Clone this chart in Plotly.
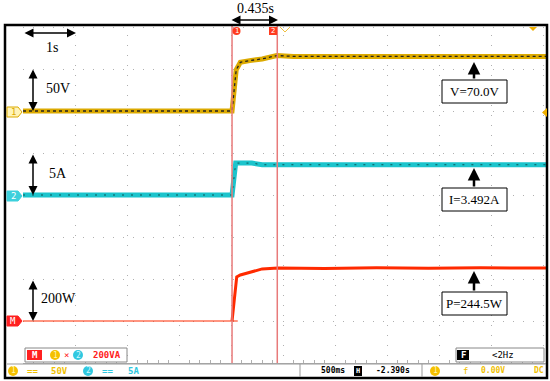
import plotly.graph_objects as go

# time in seconds from the left edge of the screen (500 ms/div)
t_v = [0.0, 2.01, 2.05, 2.09, 2.18, 2.30, 2.44, 2.60, 5.04]
volts = [0, 0, 49, 58, 60, 62, 66, 65, 65]

t_i = [0.0, 2.01, 2.045, 2.20, 2.30, 5.04]
amps = [0, 0, 3.8, 3.8, 3.6, 3.6]

t_p = [0.0, 2.01, 2.055, 2.09, 2.18, 2.30, 2.45, 2.9, 3.4, 3.9, 4.4, 5.04]
watts = [0, 0, 210, 219, 233, 248, 252, 250, 253, 251, 253, 252]

cursor_t = [2.01, 2.445]
readouts = ['V=70.0V', 'I=3.492A', 'P=244.5W']
scale_labels = ['50V', '5A', '200W']

# channel ground level (divisions) and units/div
V_OFF, V_DIV = 6, 50
I_OFF, I_DIV = 4, 5
P_OFF, P_DIV = 1, 200

YELLOW = '#dcaa00'
CYAN = '#1cc4cc'
RED = '#ff2a00'
CURSOR = '#e87a7a'

# pixel -> paper helpers (plot area is x 23..547, y 25..363)
def px(x):
    return (x - 23) / 524

def py(y):
    return (363 - y) / 338

yv = [V_OFF + v / V_DIV for v in volts]
yi = [I_OFF + a / I_DIV for a in amps]
yp = [P_OFF + w / P_DIV for w in watts]

fig = go.Figure()
fig.add_trace(go.Scatter(x=t_v, y=yv, mode='lines', line=dict(color=YELLOW, width=5)))
fig.add_trace(go.Scatter(x=t_v, y=yv, mode='lines', line=dict(color='#222', width=1.3, dash='3px,3px')))
fig.add_trace(go.Scatter(x=t_i, y=yi, mode='lines', line=dict(color=CYAN, width=5)))
fig.add_trace(go.Scatter(x=t_i, y=yi, mode='lines', line=dict(color='#0b5555', width=1, dash='2px,7px')))
fig.add_trace(go.Scatter(x=[t_p[0], t_p[2] + 0.01], y=[yp[0], yp[0]], mode='lines', line=dict(color=RED, width=1)))
fig.add_trace(go.Scatter(x=t_p[1:], y=yp[1:], mode='lines', line=dict(color=RED, width=3)))

for t in cursor_t:
    fig.add_vline(x=t, line_color=CURSOR, line_width=1.5)

shapes = []
ann = []

# outer frame
shapes.append(dict(type='rect', xref='paper', yref='paper', x0=px(5), x1=px(547), y0=py(378), y1=py(25),
                   line=dict(color='black', width=2.5)))
# status bar top line
shapes.append(dict(type='line', xref='paper', yref='paper', x0=px(7), x1=px(546), y0=py(364), y1=py(364),
                   line=dict(color='#999', width=1)))
for sx in [300, 422]:
    shapes.append(dict(type='line', xref='paper', yref='paper', x0=px(sx), x1=px(sx), y0=py(364), y1=py(377),
                       line=dict(color='#999', width=1)))

def text(x, y, txt, color='black', size=14, family='Liberation Serif'):
    ann.append(dict(xref='paper', yref='paper', x=px(x), y=py(y), text=txt, showarrow=False,
                    xanchor='center', yanchor='middle',
                    font=dict(family=family, size=size, color=color)))

def mono(x, y, txt, color, size=9):
    text(x, y, txt, color, size, 'DejaVu Sans Mono')

def darrow(x0, y0, x1, y1, color='black'):
    ann.append(dict(xref='paper', yref='paper', x=px(x1), y=py(y1), ax=x0 - x1, ay=y0 - y1, text='',
                    showarrow=True, arrowhead=2, arrowside='end+start', arrowsize=1.2, arrowwidth=1.5,
                    arrowcolor=color))

# cursor delta
darrow(230, 20, 278, 20)
text(255, 9, '0.435s')
# scale markers
darrow(23, 33, 76, 33)
text(52, 47, '1s')
for (y0, y1, lab, ly) in [(68, 111, scale_labels[0], 89), (153, 195, scale_labels[1], 173), (279, 321, scale_labels[2], 298)]:
    darrow(33, y0, 33, y1)
    text(58, ly, lab)

# readout boxes
for (top, tip, txt) in [(80, 62, readouts[0]), (188, 168, readouts[1]), (292, 271, readouts[2])]:
    shapes.append(dict(type='rect', xref='paper', yref='paper', x0=px(442), x1=px(507), y0=py(top + 23), y1=py(top),
                       line=dict(color='black', width=1), fillcolor='white'))
    text(474.5, top + 11.5, txt, size=13)
    ann.append(dict(xref='paper', yref='paper', x=px(474), y=py(tip), ax=0, ay=top - tip, text='',
                    showarrow=True, arrowhead=2, arrowsize=1, arrowwidth=2.5, arrowcolor='black'))

# channel markers at left
def marker(yc, fill, border, txt, tcol):
    shapes.append(dict(type='path', xref='paper', yref='paper',
                       path=f'M {px(7)},{py(yc-5)} L {px(18)},{py(yc-5)} L {px(22)},{py(yc)} L {px(18)},{py(yc+5)} L {px(7)},{py(yc+5)} Z',
                       fillcolor=fill, line=dict(color=border, width=1)))
    mono(13, yc, txt, tcol, 9)

marker(112, '#fff4b8', YELLOW, '1', YELLOW)
marker(196, '#3cd0dc', '#3cd0dc', '2', 'white')
marker(321, '#ff2020', '#ff2020', 'M', 'white')

# cursor tags at top
shapes.append(dict(type='circle', xref='paper', yref='paper', x0=px(232.5), x1=px(240.5), y0=py(35), y1=py(27),
                   fillcolor='#ff3b1f', line=dict(width=0)))
text(236.5, 31, '1', 'white', 7, 'DejaVu Sans')
shapes.append(dict(type='rect', xref='paper', yref='paper', x0=px(269), x1=px(277), y0=py(35), y1=py(27),
                   fillcolor='#ff3b1f', line=dict(width=0)))
text(273, 31, '2', 'white', 7, 'DejaVu Sans')
# trigger marks
shapes.append(dict(type='path', xref='paper', yref='paper',
                   path=f'M {px(280)},{py(27)} L {px(285)},{py(32)} L {px(290)},{py(27)}',
                   line=dict(color='#f0c040', width=1)))
shapes.append(dict(type='path', xref='paper', yref='paper',
                   path=f'M {px(529)},{py(27)} L {px(537)},{py(27)} L {px(533)},{py(31)} Z',
                   fillcolor='#f0b000', line=dict(width=0)))
shapes.append(dict(type='path', xref='paper', yref='paper',
                   path=f'M {px(547)},{py(108)} L {px(547)},{py(117)} L {px(542)},{py(112.5)} Z',
                   fillcolor='#f0b000', line=dict(width=0)))

def dot(xc, yc, color, txt, tcol='white'):
    shapes.append(dict(type='circle', xref='paper', yref='paper', x0=px(xc - 5), x1=px(xc + 5), y0=py(yc + 5), y1=py(yc - 5),
                       fillcolor=color, line=dict(width=0)))
    mono(xc, yc, txt, tcol, 8)

# math channel box
shapes.append(dict(type='rect', xref='paper', yref='paper', x0=px(25), x1=px(127), y0=py(362), y1=py(348),
                   fillcolor='white', line=dict(color='#888', width=1)))
shapes.append(dict(type='rect', xref='paper', yref='paper', x0=px(27), x1=px(42), y0=py(360), y1=py(350),
                   fillcolor='#ff2020', line=dict(width=0)))
mono(34.5, 355, '<b>M</b>', 'white')
dot(55, 355, '#f5c000', '1', '#fff6b0')
mono(66, 355, '×', '#ff2020')
dot(78, 355, '#30c8e0', '2', '#d0f8ff')
mono(107, 355, '<b>200VA</b>', '#ff2020')

# filter box
shapes.append(dict(type='rect', xref='paper', yref='paper', x0=px(456), x1=px(544), y0=py(362), y1=py(348),
                   fillcolor='white', line=dict(color='#888', width=1)))
shapes.append(dict(type='rect', xref='paper', yref='paper', x0=px(457), x1=px(469), y0=py(360), y1=py(350),
                   fillcolor='black', line=dict(width=0)))
mono(463, 355, '<b>F</b>', 'white')
mono(503, 355, '<2Hz', 'black')

# bottom status bar
dot(13, 371, '#f5c000', '1', '#fff6b0')
mono(32, 371, '<b>==</b>', '#f0c000')
mono(59, 371, '<b>50V</b>', '#f0c000')
dot(88, 371, '#30c8e0', '2', '#d0f8ff')
mono(107, 371, '<b>==</b>', '#30c8e0')
mono(133, 371, '<b>5A</b>', '#30c8e0')
mono(333, 371, '<b>500ms</b>', 'black', 8)
shapes.append(dict(type='rect', xref='paper', yref='paper', x0=px(354), x1=px(362), y0=py(376), y1=py(366),
                   fillcolor='black', line=dict(width=0)))
mono(358, 371, '<b>H</b>', 'white', 7)
mono(393, 371, '<b>-2.390s</b>', 'black', 8)
dot(435, 371, '#f5c000', '1', '#fff6b0')
mono(465, 371, 'f', '#f0c000')
mono(493, 371, '<b>0.00V</b>', '#f0c000', 8)
mono(539, 371, '<b>DC</b>', '#f0c000', 8)

fig.update_layout(
    width=550, height=381,
    margin=dict(l=23, r=3, t=25, b=18),
    paper_bgcolor='white', plot_bgcolor='white',
    showlegend=False,
    shapes=list(fig.layout.shapes) + shapes,
    annotations=ann,
)
fig.update_xaxes(range=[0, 524 / 104], dtick=0.5, tick0=0, showgrid=True, gridcolor='#b0b0b0',
                 griddash='1px,9px', zeroline=False, showticklabels=False,
                 showline=True, linecolor='#b0b0b0', ticks='',
                 minor=dict(dtick=0.1, ticks='inside', ticklen=3, tickcolor='#b0b0b0', showgrid=False))
fig.update_yaxes(range=[0, 338 / 42], dtick=1, tick0=0, showgrid=True, gridcolor='#b0b0b0',
                 griddash='1px,9px', zeroline=False, showticklabels=False)

fig.write_html('out.html', config={'displayModeBar': False},
               post_script="document.body.style.margin='0';")
